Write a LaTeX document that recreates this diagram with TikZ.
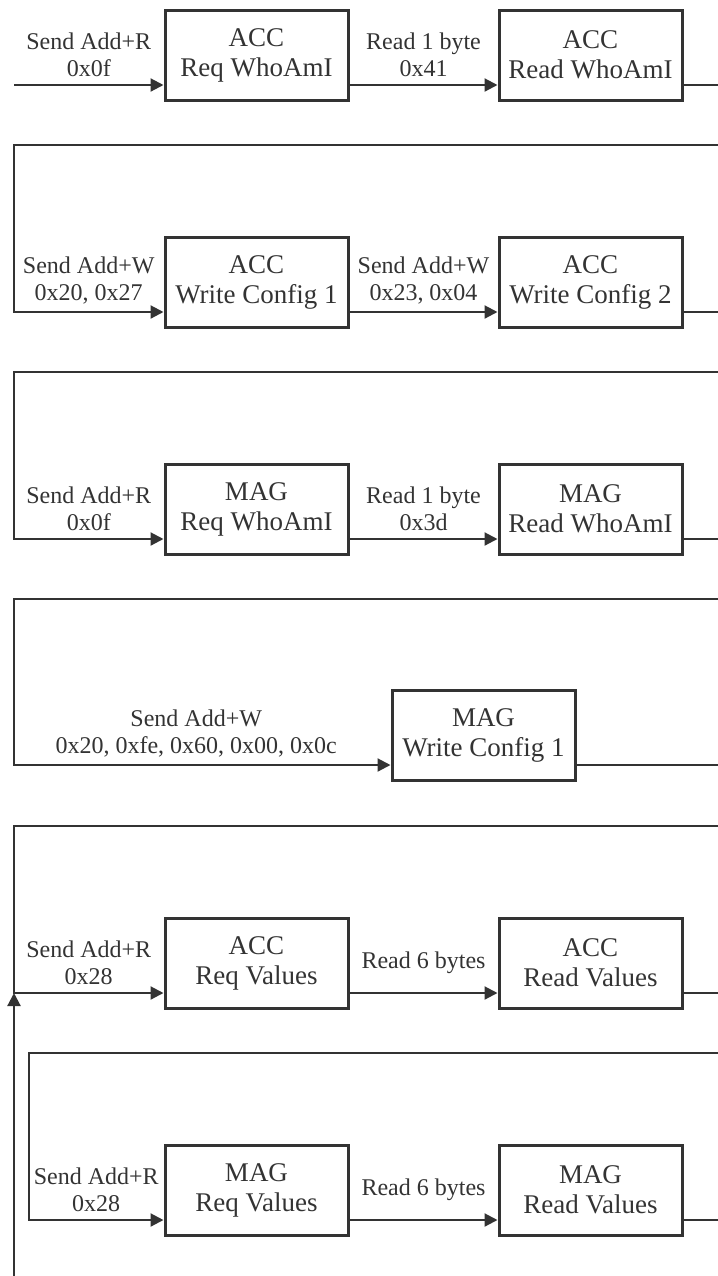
\documentclass[tikz,border=0pt]{standalone}
\usepackage{fontspec}
\setmainfont{Liberation Serif}
\usetikzlibrary{arrows.meta}
\tikzset{
  blok/.style={draw, line width=1.5pt, minimum width=91.5pt, minimum height=45pt,
    align=center, inner sep=0pt, font=\fontsize{13.5}{15}\selectfont},
  yol/.style={line width=1.1pt},
  ok/.style={yol, -{Triangle[length=6.5pt,width=6.5pt]}},
  etiket/.style={above, align=center, inner sep=3.5pt, font=\fontsize{12}{13.5}\selectfont},
}
\begin{document}
\begin{tikzpicture}[x=0.5pt, y=-0.5pt, color=black!80]
    \useasboundingbox (0,0) rectangle (718,1276);
    % Kutular
    \node[blok] (accwho) at (256.5,55) {ACC\\Req WhoAmI};
    \node[blok] (accread) at (590.5,55) {ACC\\Read WhoAmI};
    \node[blok] (acccfga) at (256.5,282) {ACC\\Write Config 1};
    \node[blok] (acccfgb) at (590.5,282) {ACC\\Write Config 2};
    \node[blok] (magwho) at (256.5,509) {MAG\\Req WhoAmI};
    \node[blok] (magread) at (590.5,509) {MAG\\Read WhoAmI};
    \node[blok] (magcfg) at (483.5,735) {MAG\\Write Config 1};
    \node[blok] (accval) at (256.5,963) {ACC\\Req Values};
    \node[blok] (accget) at (590.5,963) {ACC\\Read Values};
    \node[blok] (magval) at (256.5,1190) {MAG\\Req Values};
    \node[blok] (magget) at (590.5,1190) {MAG\\Read Values};
    % Uç noktalar
    \coordinate (bas) at (14,85);
    \coordinate (son1) at (718,85);
    \coordinate (sag2) at (718,145);
    \coordinate (sol2) at (14,145);
    \coordinate (son2) at (718,312);
    \coordinate (sag3) at (718,372);
    \coordinate (sol3) at (14,372);
    \coordinate (son3) at (718,539);
    \coordinate (sag4) at (718,599);
    \coordinate (sol4) at (14,599);
    \coordinate (son4) at (718,765);
    \coordinate (sag5) at (718,826);
    \coordinate (sol5) at (14,826);
    \coordinate (kavsak) at (14,993);
    \coordinate (alt) at (14,1276);
    \coordinate (son5) at (718,993);
    \coordinate (sag6) at (718,1053);
    \coordinate (sol6) at (29,1053);
    \coordinate (son6) at (718,1220);
    % Satır 1
    \draw[ok] (bas) -- node[etiket] {Send Add+R\\0x0f} ([yshift=-15pt]accwho.west);
    \draw[ok] ([yshift=-15pt]accwho.east) -- node[etiket] {Read 1 byte\\0x41} ([yshift=-15pt]accread.west);
    \draw[yol] ([yshift=-15pt]accread.east) -- (son1);
    % Satır 2
    \draw[ok] (sag2) -- (sol2) |- node[etiket, pos=0.75] {Send Add+W\\0x20, 0x27} ([yshift=-15pt]acccfga.west);
    \draw[ok] ([yshift=-15pt]acccfga.east) -- node[etiket] {Send Add+W\\0x23, 0x04} ([yshift=-15pt]acccfgb.west);
    \draw[yol] ([yshift=-15pt]acccfgb.east) -- (son2);
    % Satır 3
    \draw[ok] (sag3) -- (sol3) |- node[etiket, pos=0.75] {Send Add+R\\0x0f} ([yshift=-15pt]magwho.west);
    \draw[ok] ([yshift=-15pt]magwho.east) -- node[etiket] {Read 1 byte\\0x3d} ([yshift=-15pt]magread.west);
    \draw[yol] ([yshift=-15pt]magread.east) -- (son3);
    % Satır 4
    \draw[ok] (sag4) -- (sol4) |- node[etiket, pos=0.75, xshift=-3pt] {Send Add+W\\0x20, 0xfe, 0x60, 0x00, 0x0c} ([yshift=-15pt]magcfg.west);
    \draw[yol] ([yshift=-15pt]magcfg.east) -- (son4);
    % Satır 5 (döngü)
    \draw[ok] (sag5) -- (sol5) |- node[etiket, pos=0.75] {Send Add+R\\0x28} ([yshift=-15pt]accval.west);
    \draw[ok] (alt) -- (kavsak);
    \draw[ok] ([yshift=-15pt]accval.east) -- node[etiket, yshift=5.5pt] {Read 6 bytes} ([yshift=-15pt]accget.west);
    \draw[yol] ([yshift=-15pt]accget.east) -- (son5);
    % Satır 6
    \draw[ok] (sag6) -- (sol6) |- node[etiket, pos=0.75] {Send Add+R\\0x28} ([yshift=-15pt]magval.west);
    \draw[ok] ([yshift=-15pt]magval.east) -- node[etiket, yshift=5.5pt] {Read 6 bytes} ([yshift=-15pt]magget.west);
    \draw[yol] ([yshift=-15pt]magget.east) -- (son6);
\end{tikzpicture}
\end{document}
